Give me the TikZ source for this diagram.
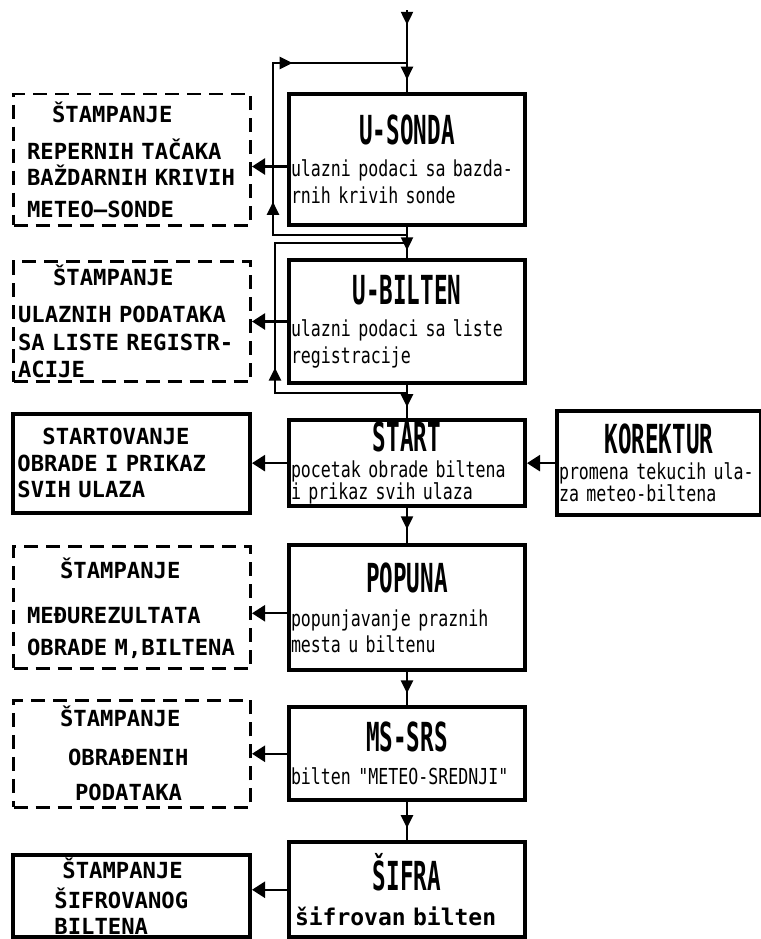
\documentclass[tikz,border=0pt]{standalone}
\usepackage{fontspec}
\usepackage{tikz}
\usetikzlibrary{arrows.meta, positioning, decorations.markings}
\newfontfamily\headfont{DejaVu Sans Mono}[FakeStretch=0.565]
\newfontfamily\notefont{DejaVu Sans Mono}[FakeStretch=0.755]
\newfontfamily\printfont{DejaVu Sans Mono}
\newcommand{\boxhead}[1]{\makebox[\linewidth]{\headfont\bfseries\fontsize{20}{20}\selectfont #1}}
\newcommand{\ind}[1]{\hspace*{#1pt}}
\tikzset{
  >={Triangle[length=6.5pt,width=6pt]},
  mainbox/.style={
    rectangle, draw, line width=2pt,
    minimum width=118pt, text width=116pt, inner xsep=1pt, inner ysep=1pt,
    align=left, font=\notefont\fontsize{11}{13.5}\selectfont,
  },
  printbox/.style={
    rectangle, draw, line width=1.4pt, dash pattern=on 7pt off 4pt,
    minimum width=118.5pt, text width=115pt, inner xsep=1.75pt, inner ysep=1pt,
    align=left, font=\printfont\bfseries\fontsize{11.1}{13}\selectfont,
  },
  solidbox/.style={printbox, solid, line width=2pt, inner xsep=1.5pt},
  wire/.style={line width=1.2pt},
  arrow/.style={-{Triangle[length=6.5pt,width=8pt]}, line width=1.2pt},
  midarrow/.style={line width=1.2pt,
    decoration={markings, mark=at position #1 with {\arrow{>}}},
    postaction={decorate}},
}

\begin{document}
\begin{tikzpicture}
  \useasboundingbox (0,0) rectangle (380.5pt,-469.5pt);
  % program chain
  \node[mainbox, minimum height=65.5pt] (usonda) at (203.5pt,-79.75pt)
    {\boxhead{U-SONDA}\\[2.5pt] ulazni podaci sa bazda-\\rnih krivih sonde};
  \node[mainbox, minimum height=61.5pt, below=15.5pt of usonda] (ubilten)
    {\boxhead{U-BILTEN}\\[2.5pt] ulazni podaci sa liste\\registracije};
  \node[mainbox, minimum height=43pt, below=16.5pt of ubilten] (start)
    {\boxhead{START}\\[-0.5pt] pocetak obrade biltena\\[-2.5pt] i prikaz svih ulaza};
  \node[mainbox, minimum width=102pt, text width=100pt, minimum height=52pt, right=14pt of start] (korektur)
    {\boxhead{KOREKTUR}\\[-0.5pt] promena tekucih ula-\\[-2.5pt] za meteo-biltena};
  \node[mainbox, minimum height=62.5pt, below=17.5pt of start] (popuna)
    {\boxhead{POPUNA}\\[3.5pt] popunjavanje praznih\\[-0.5pt] mesta u biltenu};
  \node[mainbox, minimum height=46.5pt, below=16.5pt of popuna] (mssrs)
    {\boxhead{MS-SRS}\\[3pt] bilten "METEO-SREDNJI"};
  \node[mainbox, minimum height=47.5pt, below=19pt of mssrs] (sifra)
    {\boxhead{ŠIFRA}\\[4pt]\ind{2}{\printfont\bfseries\fontsize{11.5}{13.5}\selectfont šifrovan bilten}};
  % printouts
  \node[printbox, minimum height=65.6pt, left=17.5pt of usonda] (repernih)
    {\ind{17.5}ŠTAMPANJE\\[5.5pt]\ind{5}REPERNIH TAČAKA\\\ind{5}BAŽDARNIH KRIVIH\\[3pt]\ind{5}METEO–SONDE};
  \node[printbox, minimum height=60.1pt, left=17.5pt of ubilten] (ulazni)
    {\ind{18}ŠTAMPANJE\\[5.5pt]\ind{0.5}ULAZNIH PODATAKA\\[1pt]\ind{0.5}SA LISTE REGISTR-\\[0.5pt]\ind{0.5}ACIJE};
  \node[solidbox, minimum height=49.5pt, left=17.5pt of start] (startovanje)
    {\ind{13}STARTOVANJE\\[0.5pt]\ind{0.5}OBRADE I PRIKAZ\\\ind{0.5}SVIH ULAZA};
  \node[printbox, minimum height=61.1pt, left=17.5pt of popuna] (medjurez)
    {\ind{21.5}ŠTAMPANJE\\[9.5pt]\ind{5}MEĐUREZULTATA\\[3pt]\ind{5}OBRADE M,BILTENA};
  \node[printbox, minimum height=53.6pt, left=17.5pt of mssrs] (obradjeni)
    {\ind{21.5}ŠTAMPANJE\\[6.5pt]\ind{25.5}OBRAĐENIH\\[4.5pt]\ind{29}PODATAKA};
  \node[solidbox, minimum height=41pt, anchor=north east] (sifrovani) at ([xshift=-17.5pt,yshift=-6.5pt]sifra.north west)
    {\ind{23}ŠTAMPANJE\\[2pt]\ind{19}ŠIFROVANOG\\\ind{19}BILTENA};
  % flow down
  \coordinate (feed) at ([yshift=41pt]usonda.north);
  \coordinate (top) at ([yshift=14.5pt]usonda.north);
  \draw[wire, decoration={markings, mark=at position 0.18 with {\arrow{>}}, mark=at position 0.85 with {\arrow{>}}}, postaction={decorate}] (feed) -- (usonda);
  \draw[midarrow=0.75] (usonda) -- (ubilten);
  \draw[midarrow=0.67] (ubilten) -- (start);
  \draw[midarrow=0.6] (start) -- (popuna);
  \draw[midarrow=0.64] (popuna) -- (mssrs);
  \draw[midarrow=0.68] (mssrs) -- (sifra);
  % repeat loops
  \coordinate (back1) at ([yshift=-4pt]usonda.south);
  \coordinate (side1) at ([xshift=-7pt]usonda.west);
  \draw[wire, decoration={markings, mark=at position 0.38 with {\arrow{>}}, mark=at position 0.74 with {\arrow{>}}}, postaction={decorate}] (back1) -- (back1 -| side1) -- (top -| side1) -- (top);
  \coordinate (back2) at ([yshift=-4pt]ubilten.south);
  \coordinate (into2) at ([yshift=7.5pt]ubilten.north);
  \coordinate (side2) at ([xshift=-6pt]ubilten.west);
  \draw[midarrow=0.38] (back2) -- (back2 -| side2) -- (into2 -| side2) -- (into2);
  % outputs
  \draw[arrow] ([yshift=-3.5pt]usonda.west) -- ([yshift=-3.5pt]usonda.west -| repernih.east);
  \draw[arrow] (ubilten) -- (ulazni);
  \draw[arrow] (start) -- (startovanje);
  \draw[arrow] (korektur) -- (start);
  \draw[arrow] ([yshift=-2.75pt]popuna.west) -- ([yshift=-2.75pt]popuna.west -| medjurez.east);
  \draw[arrow] (mssrs) -- (obradjeni);
  \draw[arrow] (sifra.west) -- (sifra.west -| sifrovani.east);
\end{tikzpicture}
\end{document}
